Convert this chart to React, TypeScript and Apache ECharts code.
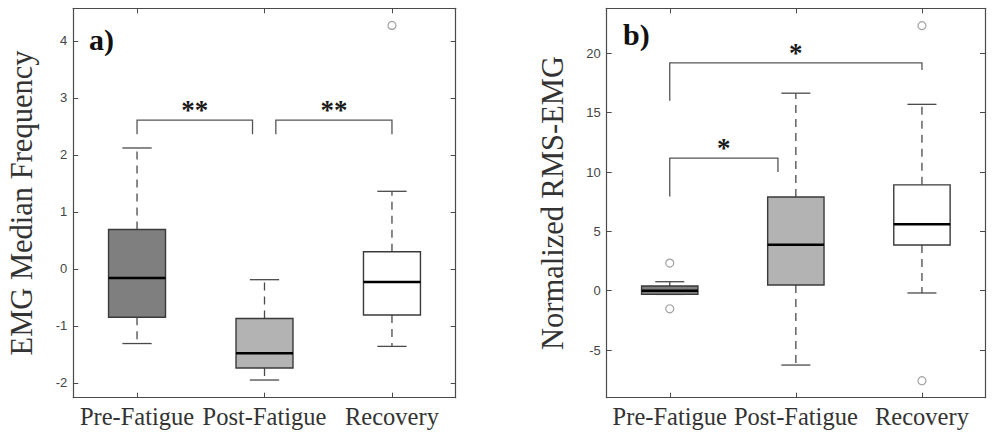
import React, { useEffect, useRef } from "react";
import * as echarts from "echarts";

const categories = ["Pre-Fatigue", "Post-Fatigue", "Recovery"];
const boxFills = ["#7f7f7f", "#b3b3b3", "#ffffff"];

// Panel a) EMG Median Frequency
const emgLow = [-1.31, -1.95, -1.36];
const emgQ1 = [-0.85, -1.74, -0.81];
const emgMed = [-0.16, -1.48, -0.23];
const emgQ3 = [0.69, -0.87, 0.3];
const emgHigh = [2.12, -0.19, 1.36];
const emgOutlierCat = [2];
const emgOutlierVal = [4.27];
const emgTicks = [-2, -1, 0, 1, 2, 3, 4];
const emgMin = -2.26;
const emgMax = 4.57;
const emgBracketX1 = [0, 1.089];
const emgBracketX2 = [0.906, 2];
const emgBracketTop = [2.61, 2.61];
const emgBracketEnd1 = [2.36, 2.36];
const emgBracketEnd2 = [2.36, 2.36];
const emgBracketLabel = ["**", "**"];

// Panel b) Normalized RMS-EMG
const rmsLow = [-0.31, -6.26, -0.19];
const rmsQ1 = [-0.31, 0.48, 3.85];
const rmsMed = [0.0, 3.87, 5.61];
const rmsQ3 = [0.4, 7.89, 8.92];
const rmsHigh = [0.76, 16.64, 15.7];
const rmsOutlierCat = [0, 0, 2, 2];
const rmsOutlierVal = [2.33, -1.52, 22.33, -7.58];
const rmsTicks = [-5, 0, 5, 10, 15, 20];
const rmsMin = -9.01;
const rmsMax = 23.79;
const rmsBracketX1 = [0, 0];
const rmsBracketX2 = [0.858, 2];
const rmsBracketTop = [11.17, 19.2];
const rmsBracketEnd1 = [7.94, 16.0];
const rmsBracketEnd2 = [10.0, 18.6];
const rmsBracketLabel = ["*", "*"];

const SERIF = '"Liberation Serif", "Times New Roman", serif';
const SANS = '"Liberation Sans", Arial, sans-serif';
const AXIS_COLOR = "#4a4a4a";

function boxSeries(xi: number, yi: number, low: number[], q1: number[], med: number[], q3: number[], high: number[]) {
  return {
    type: "custom",
    xAxisIndex: xi,
    yAxisIndex: yi,
    encode: { x: 0, y: [1, 2, 3, 4, 5] },
    data: categories.map((_, i) => [i, low[i], q1[i], med[i], q3[i], high[i]]),
    renderItem: (params: any, api: any) => {
      const i = api.value(0);
      const band = api.size([1, 0])[0];
      const bw = band * 0.447;
      const cw = band * 0.23;
      const pLow = api.coord([i, api.value(1)]);
      const pQ1 = api.coord([i, api.value(2)]);
      const pMed = api.coord([i, api.value(3)]);
      const pQ3 = api.coord([i, api.value(4)]);
      const pHigh = api.coord([i, api.value(5)]);
      const x = pMed[0];
      const dash = { stroke: AXIS_COLOR, lineWidth: 1.3, lineDash: [8, 6], fill: null };
      const solid = { stroke: AXIS_COLOR, lineWidth: 1.3, fill: null };
      const children: any[] = [];
      if (Math.abs(pHigh[1] - pQ3[1]) > 0.5)
        children.push({ type: "line", shape: { x1: x, y1: pQ3[1], x2: x, y2: pHigh[1] }, style: dash });
      if (Math.abs(pLow[1] - pQ1[1]) > 0.5)
        children.push({ type: "line", shape: { x1: x, y1: pQ1[1], x2: x, y2: pLow[1] }, style: dash });
      children.push({
        type: "line",
        shape: { x1: x - cw / 2, y1: pHigh[1], x2: x + cw / 2, y2: pHigh[1] },
        style: solid,
      });
      children.push({
        type: "line",
        shape: { x1: x - cw / 2, y1: pLow[1], x2: x + cw / 2, y2: pLow[1] },
        style: solid,
      });
      children.push({
        type: "rect",
        shape: { x: x - bw / 2, y: pQ3[1], width: bw, height: pQ1[1] - pQ3[1] },
        style: { fill: boxFills[params.dataIndex], stroke: "#3a3a3a", lineWidth: 1.4 },
      });
      children.push({
        type: "line",
        shape: { x1: x - bw / 2, y1: pMed[1], x2: x + bw / 2, y2: pMed[1] },
        style: { stroke: "#000000", lineWidth: 2.5 },
      });
      return { type: "group", children };
    },
    z: 3,
  };
}

function outlierSeries(xi: number, yi: number, cats: number[], vals: number[]) {
  return {
    type: "scatter",
    xAxisIndex: xi,
    yAxisIndex: yi,
    symbol: "circle",
    symbolSize: 8,
    itemStyle: { color: "#ffffff", borderColor: "#8a8a8a", borderWidth: 1.2 },
    data: cats.map((c, i) => [c, vals[i]]),
    z: 4,
  };
}

function bracketSeries(
  xi: number,
  yi: number,
  x1: number[],
  x2: number[],
  top: number[],
  end1: number[],
  end2: number[],
  labels: string[]
) {
  return {
    type: "custom",
    xAxisIndex: xi,
    yAxisIndex: yi,
    encode: { x: 0, y: 1 },
    data: top.map((t, i) => [Math.round(x1[i]), t]),
    renderItem: (params: any, api: any) => {
      const k = params.dataIndex;
      const band = api.size([1, 0])[0];
      const px = (v: number) => api.coord([Math.round(v), 0])[0] + (v - Math.round(v)) * band;
      const py = (v: number) => api.coord([0, v])[1];
      const xa = px(x1[k]);
      const xb = px(x2[k]);
      const yt = py(top[k]);
      return {
        type: "group",
        children: [
          {
            type: "polyline",
            shape: { points: [[xa, py(end1[k])], [xa, yt], [xb, yt], [xb, py(end2[k])]] },
            style: { stroke: "#555555", lineWidth: 1.3, fill: null },
          },
          {
            type: "text",
            x: (xa + xb) / 2,
            y: yt - 10,
            style: {
              text: labels[k],
              fontFamily: SERIF,
              fontWeight: "bold",
              fontSize: 27,
              fill: "#1a1a1a",
              align: "center",
              verticalAlign: "middle",
            },
          },
        ],
      };
    },
    z: 5,
  };
}

function makeXAxes(grid: number) {
  const common = {
    gridIndex: grid,
    type: "category",
    data: categories,
    boundaryGap: true,
    axisLine: { show: true, onZero: false, lineStyle: { color: AXIS_COLOR, width: 1.2 } },
    axisTick: { show: true, inside: true, alignWithLabel: true, interval: 0, length: 5, lineStyle: { color: AXIS_COLOR } },
    splitLine: { show: false },
  };
  return [
    {
      ...common,
      position: "bottom",
      axisLabel: { show: true, interval: 0, hideOverlap: false, fontFamily: SERIF, fontSize: 24.5, color: "#333333", margin: 6 },
    },
    { ...common, position: "top", axisLabel: { show: false } },
  ];
}

function makeYAxes(grid: number, min: number, max: number, ticks: number[], name: string, gap: number) {
  const common = {
    gridIndex: grid,
    type: "value",
    min,
    max,
    axisLine: { show: true, onZero: false, lineStyle: { color: AXIS_COLOR, width: 1.2 } },
    axisTick: { show: true, inside: true, length: 5, customValues: ticks, lineStyle: { color: AXIS_COLOR } },
    splitLine: { show: false },
  };
  return [
    {
      ...common,
      position: "left",
      name,
      nameLocation: "middle",
      nameGap: gap,
      nameTextStyle: { fontFamily: SERIF, fontSize: 30.5, color: "#333333" },
      axisLabel: { show: true, customValues: ticks, fontFamily: SANS, fontSize: 13, color: "#444444", margin: 6 },
    },
    { ...common, position: "right", axisLabel: { show: false } },
  ];
}

export default function App() {
  const ref = useRef<HTMLDivElement>(null);
  useEffect(() => {
    if (!ref.current) return;
    const chart = echarts.init(ref.current, null, { renderer: "svg" });
    chart.setOption({
      animation: false,
      backgroundColor: "#ffffff",
      grid: [
        { left: 73.3, top: 8.3, width: 382.4, height: 389.4, containLabel: false },
        { left: 606.7, top: 8.3, width: 378.3, height: 389.4, containLabel: false },
      ],
      xAxis: [...makeXAxes(0), ...makeXAxes(1)],
      yAxis: [
        ...makeYAxes(0, emgMin, emgMax, emgTicks, "EMG Median Frequency", 36),
        ...makeYAxes(1, rmsMin, rmsMax, rmsTicks, "Normalized RMS-EMG", 38),
      ],
      graphic: [
        {
          type: "text",
          x: 89,
          y: 39,
          style: {
            text: "a)",
            fontFamily: SERIF,
            fontWeight: "bold",
            fontSize: 30,
            fill: "#111111",
            verticalAlign: "middle",
          },
        },
        {
          type: "text",
          x: 623,
          y: 34,
          style: {
            text: "b)",
            fontFamily: SERIF,
            fontWeight: "bold",
            fontSize: 30,
            fill: "#111111",
            verticalAlign: "middle",
          },
        },
      ],
      series: [
        boxSeries(0, 0, emgLow, emgQ1, emgMed, emgQ3, emgHigh),
        outlierSeries(0, 0, emgOutlierCat, emgOutlierVal),
        bracketSeries(0, 0, emgBracketX1, emgBracketX2, emgBracketTop, emgBracketEnd1, emgBracketEnd2, emgBracketLabel),
        boxSeries(2, 2, rmsLow, rmsQ1, rmsMed, rmsQ3, rmsHigh),
        outlierSeries(2, 2, rmsOutlierCat, rmsOutlierVal),
        bracketSeries(2, 2, rmsBracketX1, rmsBracketX2, rmsBracketTop, rmsBracketEnd1, rmsBracketEnd2, rmsBracketLabel),
      ],
    });
    return () => chart.dispose();
  }, []);
  return (
    <div
      ref={ref}
      style={{ position: "fixed", left: 0, top: 0, width: 992, height: 439, background: "#fff" }}
    />
  );
}
